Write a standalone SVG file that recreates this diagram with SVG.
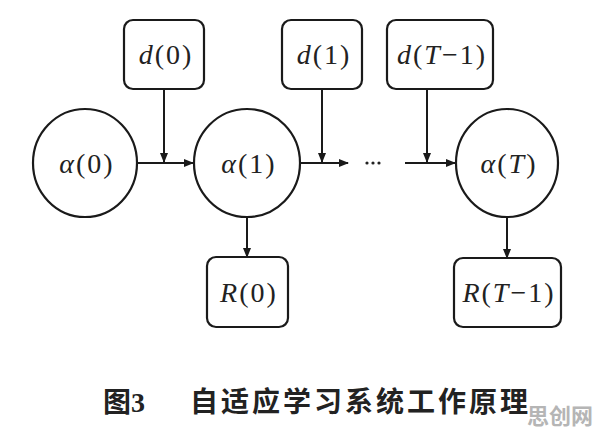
<svg xmlns="http://www.w3.org/2000/svg" width="596" height="430" viewBox="0 0 596 430">
<style>
.box{fill:#fff;stroke:#1a1a1a;stroke-width:2.2}
.c{fill:#fff;stroke:#1a1a1a;stroke-width:2.2}
.lbl{font-size:28px;fill:#222;text-anchor:middle;letter-spacing:2px}
.i{font-style:italic}
.e{fill:none;stroke:#1a1a1a;stroke-width:2}
.cap{font-weight:bold;font-size:28px;fill:#222}
</style>
<defs>
<marker id="ah" markerWidth="10" markerHeight="8" refX="9" refY="4" orient="auto" markerUnits="userSpaceOnUse">
<path d="M0,0 L10,4 L0,8 Z" fill="#1a1a1a"/>
</marker>
</defs>
<rect width="596" height="430" fill="#fff"/>
<g id="connectors">
<line class="e" x1="137" y1="163" x2="193" y2="163" marker-end="url(#ah)"/>
<line class="e" x1="164" y1="89" x2="164" y2="162" marker-end="url(#ah)"/>
<line class="e" x1="300" y1="163" x2="348" y2="163" marker-end="url(#ah)"/>
<line class="e" x1="322" y1="89" x2="322" y2="162" marker-end="url(#ah)"/>
<line class="e" x1="405" y1="163" x2="455" y2="163" marker-end="url(#ah)"/>
<line class="e" x1="427" y1="89" x2="427" y2="162" marker-end="url(#ah)"/>
<line class="e" x1="247" y1="216" x2="247" y2="257" marker-end="url(#ah)"/>
<line class="e" x1="507" y1="216" x2="507" y2="258" marker-end="url(#ah)"/>
</g>
<g id="dots"><circle cx="367" cy="163" r="1.6" fill="#222"/><circle cx="373" cy="163" r="1.6" fill="#222"/><circle cx="379" cy="163" r="1.6" fill="#222"/></g>
<g id="d0" font-family="Liberation Serif, serif"><rect class="box" x="124" y="20" width="80" height="69" rx="9"/><text class="lbl" x="166" y="64"><tspan class="i">d</tspan>(0)</text></g>
<g id="d1" font-family="Liberation Serif, serif"><rect class="box" x="282" y="20" width="80" height="69" rx="9"/><text class="lbl" x="324" y="64"><tspan class="i">d</tspan>(1)</text></g>
<g id="dT1" font-family="Liberation Serif, serif"><rect class="box" x="387" y="20" width="106" height="69" rx="9"/><text class="lbl" x="442" y="64"><tspan class="i">d</tspan>(<tspan class="i">T</tspan>−1)</text></g>
<g id="a0" font-family="Liberation Serif, serif"><ellipse class="c" cx="85" cy="163" rx="52" ry="54"/><text class="lbl" x="87" y="173"><tspan class="i">α</tspan>(0)</text></g>
<g id="a1" font-family="Liberation Serif, serif"><ellipse class="c" cx="247" cy="163" rx="53" ry="54"/><text class="lbl" x="249" y="173"><tspan class="i">α</tspan>(1)</text></g>
<g id="aT" font-family="Liberation Serif, serif"><ellipse class="c" cx="507" cy="163" rx="51" ry="54"/><text class="lbl" x="509" y="173"><tspan class="i">α</tspan>(<tspan class="i">T</tspan>)</text></g>
<g id="R0" font-family="Liberation Serif, serif"><rect class="box" x="207" y="257" width="81" height="70" rx="9"/><text class="lbl" x="249" y="302"><tspan class="i">R</tspan>(0)</text></g>
<g id="RT1" font-family="Liberation Serif, serif"><rect class="box" x="454" y="258" width="107" height="69" rx="9"/><text class="lbl" x="509" y="302"><tspan class="i">R</tspan>(<tspan class="i">T</tspan>−1)</text></g>
<g id="caption">
<text class="cap" x="103" y="412" font-family="Liberation Serif, Noto Sans CJK SC, serif">图3</text>
<text class="cap" x="190" y="412" style="letter-spacing:3px" font-family="Noto Sans CJK SC, sans-serif">自适应学习系统工作原理</text>
</g>
<text x="527" y="424" font-family="Noto Sans CJK SC, sans-serif" font-weight="bold" font-size="22" fill="#b5b5b5">思创网</text>
</svg>
